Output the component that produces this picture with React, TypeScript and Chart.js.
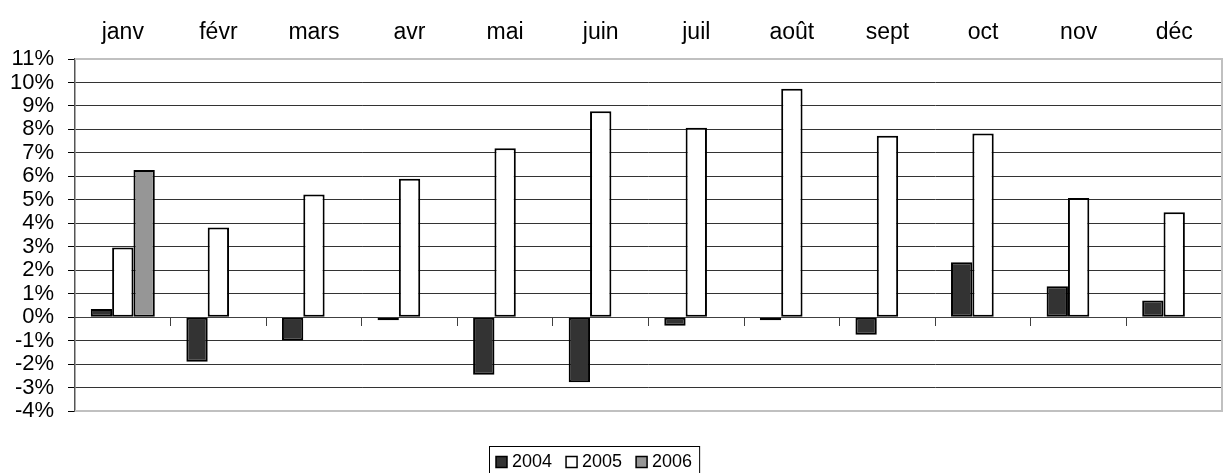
import React, { useEffect, useRef } from "react";
import { Chart, registerables } from "chart.js";

Chart.register(...registerables);

const months = ["janv", "févr", "mars", "avr", "mai", "juin", "juil", "août", "sept", "oct", "nov", "déc"];
const series2004 = [0.35, -1.9, -1.0, -0.13, -2.45, -2.77, -0.37, -0.13, -0.75, 2.34, 1.32, 0.71];
const series2005 = [2.97, 3.82, 5.23, 5.9, 7.2, 8.77, 8.07, 9.73, 7.73, 7.82, 5.08, 4.47];
const series2006 = [6.27, null, null, null, null, null, null, null, null, null, null, null];
const seriesLabels = ["2004", "2005", "2006"];
const seriesColors = ["#333333", "#ffffff", "#969696"];
const yMin = -4;
const yMax = 11;

const FONT = "'Liberation Sans', Arial, sans-serif";

const framePlugin = {
  id: "frame",
  beforeDatasetsDraw(chart: any) {
    const { ctx, chartArea } = chart;
    ctx.save();
    ctx.strokeStyle = "#c0c0c0";
    ctx.lineWidth = 2;
    ctx.beginPath();
    ctx.moveTo(chartArea.left, chartArea.top);
    ctx.lineTo(chartArea.right, chartArea.top);
    ctx.lineTo(chartArea.right, chartArea.bottom);
    ctx.lineTo(chartArea.left, chartArea.bottom);
    ctx.stroke();
    ctx.restore();
  },
};

const legendPlugin = {
  id: "boxLegend",
  afterDraw(chart: any) {
    const { ctx } = chart;
    const ds = chart.data.datasets;
    ctx.save();
    ctx.font = `18px ${FONT}`;
    const sq = 11;
    const gapText = 5;
    const gapItem = 14;
    const padX = 7;
    let total = padX * 2;
    ds.forEach((d: any, i: number) => {
      total += sq + gapText + ctx.measureText(d.label).width + (i < ds.length - 1 ? gapItem : 0);
    });
    const left = 489;
    const top = 446;
    ctx.strokeStyle = "#000";
    ctx.lineWidth = 1;
    ctx.strokeRect(left + 0.5, top + 0.5, total, 40);
    let x = left + padX;
    const cy = 462;
    ds.forEach((d: any) => {
      ctx.fillStyle = d.backgroundColor;
      ctx.fillRect(x, cy - sq / 2, sq, sq);
      ctx.lineWidth = 1.5;
      ctx.strokeStyle = "#000";
      ctx.strokeRect(x, cy - sq / 2, sq, sq);
      x += sq + gapText;
      ctx.fillStyle = "#000";
      ctx.textBaseline = "middle";
      ctx.textAlign = "left";
      ctx.fillText(d.label, x, cy);
      x += ctx.measureText(d.label).width + gapItem;
    });
    ctx.restore();
  },
};

export default function App() {
  const ref = useRef<HTMLCanvasElement | null>(null);
  useEffect(() => {
    if (!ref.current) return;
    const seriesData = [series2004, series2005, series2006];
    const chart = new Chart(ref.current, {
      type: "bar",
      data: {
        labels: months,
        datasets: seriesData.map((d, i) => ({
          label: seriesLabels[i],
          data: d,
          backgroundColor: seriesColors[i],
          borderColor: "#000",
          borderWidth: 2,
          borderSkipped: false,
          categoryPercentage: 0.67,
          barPercentage: 1.0,
        })),
      },
      options: {
        responsive: false,
        animation: false,
        layout: { padding: { top: 0, left: 0, right: 1, bottom: 62 } },
        plugins: { legend: { display: false }, tooltip: { enabled: false } },
        scales: {
          x: {
            position: "top",
            grid: { display: false },
            border: { display: false },
            ticks: { color: "#000", font: { family: FONT, size: 23 }, padding: 5, maxRotation: 0, autoSkip: false },
            afterFit(scale: any) {
              scale.height = 59;
            },
          },
          x0: {
            type: "category",
            axis: "x",
            position: { y: 0 },
            offset: true,
            grid: { display: true, drawOnChartArea: false, drawTicks: true, tickLength: 8, color: "#404040", offset: true },
            ticks: { display: false },
            border: { display: true, color: "#404040", width: 1 },
          },
          y: {
            min: yMin,
            max: yMax,
            ticks: {
              stepSize: 1,
              autoSkip: false,
              color: "#000",
              font: { family: FONT, size: 22 },
              padding: 14,
              callback: (v: any) => `${v}%`,
            },
            grid: { color: "#333", tickColor: "#000", tickLength: 7, lineWidth: 1 },
            border: { display: true, color: "#555", width: 1.5 },
            afterFit(scale: any) {
              scale.width = 75;
            },
          },
        },
      } as any,
      plugins: [framePlugin, legendPlugin],
    });
    return () => chart.destroy();
  }, []);
  return (
    <div style={{ position: "absolute", left: 0, top: 0, width: 1223, height: 473, background: "#fff" }}>
      <canvas ref={ref} width={1223} height={473} />
    </div>
  );
}
